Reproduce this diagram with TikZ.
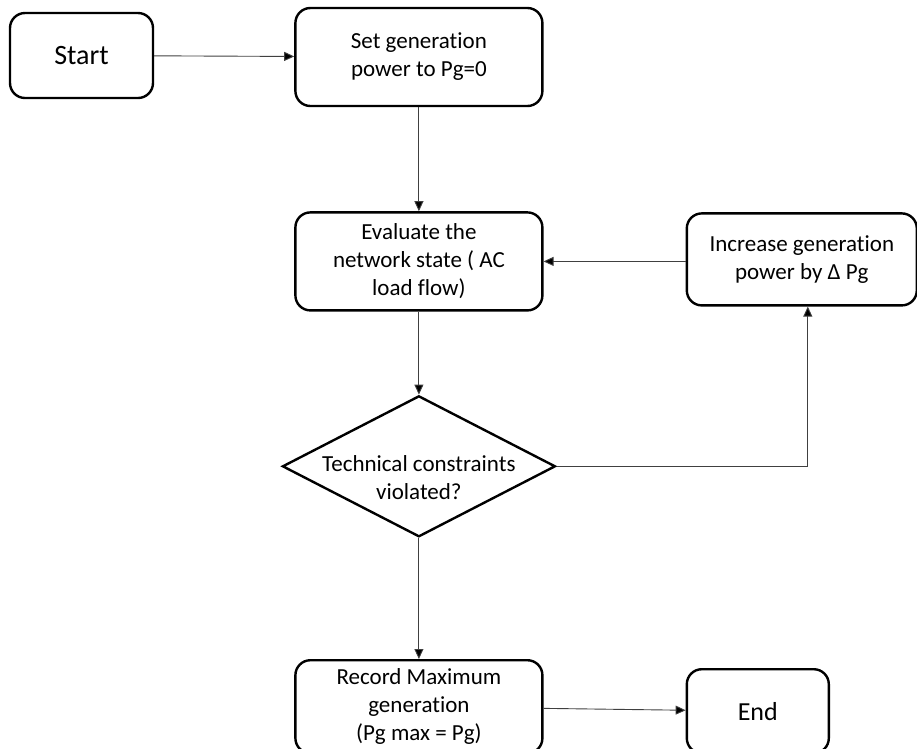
\documentclass[tikz,border=0pt]{standalone}
\usepackage{fontspec}
\setmainfont{Carlito}[Ligatures={NoCommon, NoContextual}]
\usepackage{tikz}
\usetikzlibrary{positioning, arrows.meta, shapes.geometric}

\begin{document}
\begin{tikzpicture}[x=1pt, y=-1pt,
    box/.style={draw, line width=2.4pt, rounded corners=15pt, align=center, inner sep=0pt},
    link/.style={draw=black!75, line width=0.9pt, -{Triangle[length=10pt, width=9pt, fill=black]}}]
    \useasboundingbox (0,0) rectangle (917,748);
    \fontsize{23}{28}\selectfont
    \node (start) [box, minimum width=143pt, minimum height=85pt, font=\fontsize{28}{32}\selectfont] at (81.5,55.5) {Start};
    \node (setpg) [box, minimum width=247pt, minimum height=98pt, right=140pt of start, yshift=-1.5pt] {Set generation\\power to Pg=0};
    \node (eval) [box, minimum width=247pt, minimum height=98pt, below=104pt of setpg] {Evaluate the\\network state ( AC\\load flow)};
    \node (check) [diamond, draw, line width=2.4pt, minimum width=273pt, minimum height=141pt, inner sep=0pt, below=83pt of eval,
        label={[yshift=-11pt, align=center]center:Technical constraints\\violated?}] {};
    \node (record) [box, minimum width=247pt, minimum height=93pt, below=121pt of check] {Record Maximum\\generation\\(Pg max = Pg)};
    \node (incr) [box, minimum width=230pt, minimum height=92pt, right=142pt of eval, yshift=2pt] {Increase generation\\power by Δ Pg};
    \node (finish) [box, minimum width=142pt, minimum height=84pt, right=142pt of record, yshift=-4.5pt, font=\fontsize{26}{30}\selectfont] {End};
    % Main flow
    \draw [link] (start) -- (setpg);
    \draw [link] (setpg) -- (eval);
    \draw [link] (eval) -- (check);
    \draw [link] (check) -- (record);
    \draw [link] (record) -- (finish);
    % Loop back
    \draw [link] (check.east) -| ([xshift=6pt]incr.south);
    \draw [link] (incr.west |- eval.east) -- (eval.east);
\end{tikzpicture}
\end{document}
